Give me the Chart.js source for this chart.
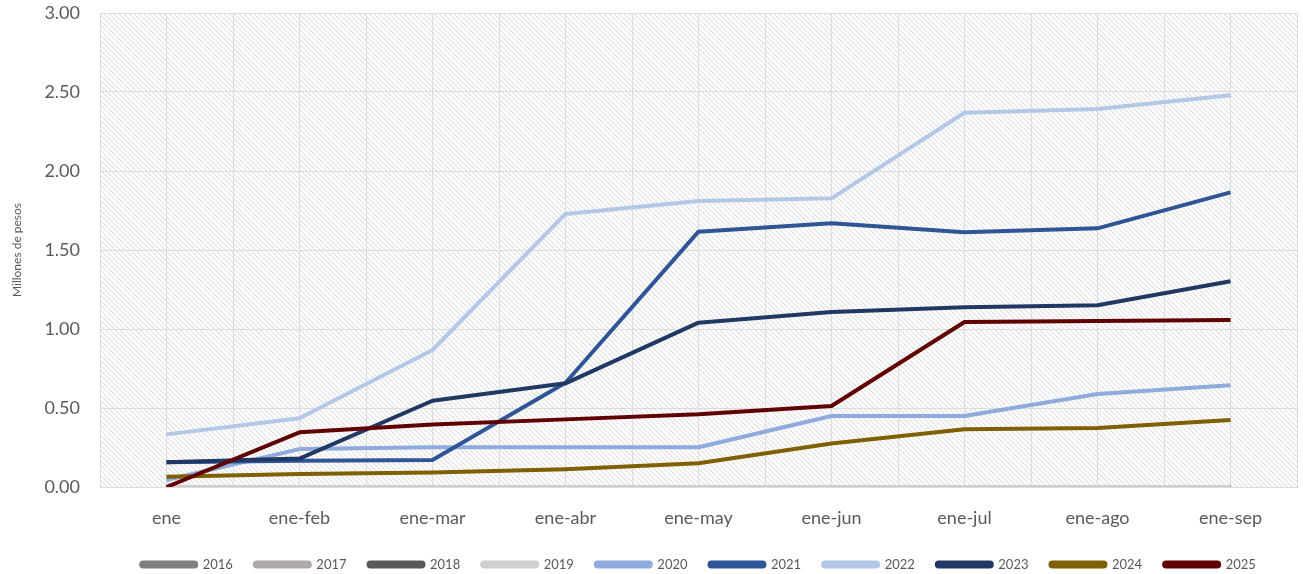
<!DOCTYPE html>
<html>
<head>
<meta charset="utf-8">
<script src="https://cdn.jsdelivr.net/npm/chart.js@4/dist/chart.umd.min.js"></script>
<style>
  html, body { margin: 0; padding: 0; background: #fff; }
  canvas { display: block; }
</style>
</head>
<body>
<canvas id="chart" width="1303" height="574"></canvas>
<script>
// --- datos ---
const categories = ['ene', 'ene-feb', 'ene-mar', 'ene-abr', 'ene-may', 'ene-jun', 'ene-jul', 'ene-ago', 'ene-sep'];
const years = ['2016', '2017', '2018', '2019', '2020', '2021', '2022', '2023', '2024', '2025'];

const v2016 = [0, 0, 0, 0, 0, 0, 0, 0, 0];
const v2017 = [0, 0, 0, 0, 0, 0, 0, 0, 0];
const v2018 = [0, 0, 0, 0, 0, 0, 0, 0, 0];
const v2019 = [0, 0, 0, 0, 0, 0, 0, 0, 0];
const v2020 = [0.044, 0.24, 0.252, 0.252, 0.252, 0.449, 0.449, 0.589, 0.644];
const v2021 = [0.156, 0.166, 0.171, 0.66, 1.616, 1.669, 1.612, 1.637, 1.865];
const v2022 = [0.333, 0.435, 0.867, 1.728, 1.81, 1.827, 2.369, 2.392, 2.479];
const v2023 = [0.156, 0.18, 0.546, 0.656, 1.04, 1.108, 1.137, 1.15, 1.302];
const v2024 = [0.065, 0.082, 0.092, 0.112, 0.15, 0.275, 0.365, 0.373, 0.424];
const v2025 = [0, 0.346, 0.395, 0.428, 0.46, 0.513, 1.044, 1.05, 1.057];

const yTicks = [0, 0.5, 1, 1.5, 2, 2.5, 3];

const seriesValues = [v2016, v2017, v2018, v2019, v2020, v2021, v2022, v2023, v2024, v2025];
const seriesColors = ['#7f7f7f', '#aeaaaa', '#595959', '#d0cece', '#8faadc', '#2f5597', '#b4c7e7', '#203864', '#7f6000', '#600000'];

const FONT = 'Lato, "Open Sans", sans-serif';
const TEXT = '#595959';
const GRID = '#dcdcdc';

// fondo rayado del área de trazado
let hatch = null;
function makeHatch(ctx) {
    const n = 5;
    const c = document.createElement('canvas');
    c.width = n; c.height = n;
    const g = c.getContext('2d');
    g.fillStyle = '#ffffff';
    g.fillRect(0, 0, n, n);
    for (let i = 0; i < n; i++) {
        g.fillStyle = '#dedede';
        g.fillRect(i, i, 1, 1);
        g.fillStyle = '#f3f3f3';
        g.fillRect((i + 1) % n, i, 1, 1);
    }
    return ctx.createPattern(c, 'repeat');
}

const hatchPlugin = {
    id: 'hatch',
    beforeDraw(chart) {
        const {ctx, chartArea: a} = chart;
        if (!hatch) hatch = makeHatch(ctx);
        ctx.save();
        ctx.fillStyle = hatch;
        ctx.fillRect(a.left, a.top, a.right - a.left, a.bottom - a.top);
        ctx.restore();
    }
};

const datasets = years.map((y, i) => ({
    label: y,
    data: seriesValues[i],
    borderColor: seriesColors[i],
    backgroundColor: seriesColors[i],
    borderWidth: 4,
    pointRadius: 0,
    tension: 0,
    borderJoinStyle: 'round',
    borderCapStyle: 'butt',
    order: years.length - i
}));

new Chart(document.getElementById('chart'), {
    type: 'line',
    data: { labels: categories, datasets },
    options: {
        responsive: false,
        animation: false,
        layout: { padding: { top: 2, right: 6, left: 0, bottom: 0 } },
        plugins: {
            tooltip: { enabled: false },
            legend: {
                position: 'bottom',
                fullSize: false,
                maxHeight: 38,
                labels: {
                    boxWidth: 55,
                    boxHeight: 4,
                    padding: 22,
                    useBorderRadius: true,
                    borderRadius: 2,
                    color: TEXT,
                    font: { family: FONT, size: 13 },
                    sort: (a, b) => a.datasetIndex - b.datasetIndex
                }
            }
        },
        scales: {
            x: {
                type: 'category',
                offset: true,
                grid: { display: false, drawTicks: false },
                border: { display: true, color: GRID, width: 1 },
                ticks: { color: TEXT, font: { family: FONT, size: 18 }, padding: 20, maxRotation: 0 },
                afterFit: s => { s.height = 49; }
            },
            xg: {
                type: 'linear',
                position: 'bottom',
                min: -0.5,
                max: categories.length - 0.5,
                grid: { color: GRID, lineWidth: 1, drawTicks: false },
                border: { display: false },
                ticks: { display: false, stepSize: 0.5 },
                afterFit: s => { s.height = 0; }
            },
            y: {
                min: 0,
                max: 3,
                afterBuildTicks: s => { s.ticks = yTicks.map(v => ({ value: v })); },
                grid: { color: GRID, lineWidth: 1, drawTicks: false },
                border: { display: false },
                ticks: {
                    color: TEXT,
                    font: { family: FONT, size: 18 },
                    padding: 20,
                    callback: v => v.toFixed(2)
                },
                title: {
                    display: true,
                    text: 'Millones de pesos',
                    color: TEXT,
                    font: { family: FONT, size: 12 },
                    padding: { top: 10, bottom: 0 }
                },
                afterFit: s => {
                    s.width = 100;
                    s.paddingTop = 13;
                    s.paddingBottom = 0;
                }
            }
        }
    },
    plugins: [hatchPlugin]
});
</script>
</body>
</html>
